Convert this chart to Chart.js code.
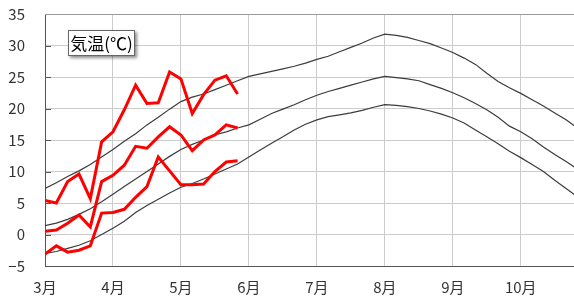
<!DOCTYPE html>
<html>
<head>
<meta charset="utf-8">
<script src="https://cdn.jsdelivr.net/npm/chart.js@4/dist/chart.umd.min.js"></script>
<style>
  html, body { margin: 0; padding: 0; background: #fff; }
  #wrap { position: relative; width: 574px; height: 302px; }
  #title {
    position: absolute; left: 68px; top: 30px; width: 65px; height: 24px;
    background: #fff; border: 1px solid #666;
    box-shadow: 2px 2px 3px rgba(0,0,0,0.45);
    font-family: "Noto Sans CJK JP", sans-serif; font-size: 17px; line-height: 24px;
    color: #000; text-align: center; white-space: nowrap;
  }
</style>
</head>
<body>
<div id="wrap">
  <canvas id="chart" width="574" height="302"></canvas>
  <div id="title">気温(℃)</div>
</div>
<script>
// month labels, one every 6 pentads (半旬)
var monthLabels = ['3月', '4月', '5月', '6月', '7月', '8月', '9月', '10月'];
var yTicks = [-5, 0, 5, 10, 15, 20, 25, 30, 35];

// observed, pentad values from 3/1
var obsMax  = [5.4, 5.0, 8.4, 9.6, 5.7, 14.7, 16.3, 19.8, 23.7, 20.8, 20.9, 25.8, 24.7, 19.2, 22.2, 24.5, 25.2, 22.3];
var obsMean = [0.5, 0.7, 1.8, 3.1, 1.2, 8.4, 9.4, 11.0, 14.0, 13.7, 15.5, 17.1, 15.8, 13.3, 15.0, 15.8, 17.4, 16.9];
var obsMin  = [-3.1, -1.8, -2.8, -2.5, -1.8, 3.4, 3.5, 4.0, 5.9, 7.6, 12.3, 10.1, 7.9, 7.9, 8.0, 10.0, 11.5, 11.7];

// normals, pentad values from 3/1
var normMax  = [7.3, 8.2, 9.2, 10.1, 11.1, 12.3, 13.5, 14.8, 16.0, 17.4, 18.6, 19.9, 21.1, 21.8, 22.3, 23.0,
                23.7, 24.4, 25.1, 25.5, 25.9, 26.3, 26.7, 27.2, 27.8, 28.3, 29.0, 29.7, 30.4, 31.2, 31.8, 31.6,
                31.3, 30.8, 30.3, 29.6, 28.9, 28.0, 27.0, 25.6, 24.3, 23.3, 22.4, 21.4, 20.4, 19.3, 18.2, 16.9];
var normMean = [1.4, 1.8, 2.4, 3.2, 4.1, 5.2, 6.4, 7.6, 8.8, 10.0, 11.2, 12.4, 13.5, 14.3, 15.0, 15.8,
                16.3, 16.9, 17.4, 18.3, 19.2, 19.9, 20.6, 21.4, 22.1, 22.7, 23.2, 23.7, 24.2, 24.7, 25.1, 24.9,
                24.7, 24.4, 23.8, 23.2, 22.5, 21.7, 20.8, 19.8, 18.6, 17.2, 16.3, 15.2, 13.9, 12.7, 11.6, 10.4];
var normMin  = [-3.0, -2.7, -2.2, -1.7, -1.0, 0.0, 1.0, 2.1, 3.5, 4.6, 5.6, 6.6, 7.5, 8.1, 8.8, 9.6,
                10.4, 11.2, 12.3, 13.4, 14.5, 15.5, 16.6, 17.5, 18.2, 18.7, 19.0, 19.3, 19.7, 20.2, 20.6, 20.5,
                20.3, 20.0, 19.6, 19.1, 18.5, 17.7, 16.6, 15.5, 14.4, 13.2, 12.2, 11.1, 10.0, 8.6, 7.3, 6.0];

var FONT = '"Noto Sans CJK JP", sans-serif';

function pts(arr) {
    return arr.map(function (v, i) { return { x: i, y: v }; });
}

function grayLine(arr) {
    return { data: pts(arr), borderColor: '#3c3c3c', borderWidth: 1.2, pointRadius: 0, order: 1 };
}
function redLine(arr) {
    return { data: pts(arr), borderColor: '#ff0000', borderWidth: 3, pointRadius: 0, order: 0 };
}

// short inward tick marks on the left axis, and the top frame line
var frame = {
    id: 'frame',
    afterDraw: function (chart) {
        var ctx = chart.ctx, a = chart.chartArea, y = chart.scales.y;
        ctx.save();
        ctx.strokeStyle = '#555';
        ctx.lineWidth = 1;
        ctx.beginPath();
        yTicks.forEach(function (v) {
            var py = Math.round(y.getPixelForValue(v)) + 0.5;
            ctx.moveTo(a.left, py);
            ctx.lineTo(a.left + 6, py);
        });
        ctx.stroke();
        ctx.strokeStyle = '#999';
        ctx.beginPath();
        ctx.moveTo(a.left, Math.round(a.top) + 0.5);
        ctx.lineTo(a.right, Math.round(a.top) + 0.5);
        ctx.stroke();
        ctx.restore();
    }
};

var ctx = document.getElementById('chart').getContext('2d');
var chart = new Chart(ctx, {
    type: 'line',
    data: {
        datasets: [
            redLine(obsMax), redLine(obsMean), redLine(obsMin),
            grayLine(normMax), grayLine(normMean), grayLine(normMin)
        ]
    },
    options: {
        responsive: false,
        animation: false,
        layout: { padding: { top: 14, right: 0, left: 0, bottom: 0 } },
        plugins: { legend: { display: false }, tooltip: { enabled: false } },
        scales: {
            x: {
                type: 'linear', min: 0, max: 46.7,
                afterBuildTicks: function (s) {
                    s.ticks = monthLabels.map(function (m, i) { return { value: i * 6 }; });
                },
                afterFit: function (s) { s.height = 36; s.paddingLeft = 0; s.paddingRight = 0; },
                ticks: {
                    autoSkip: false, maxRotation: 0, padding: 12, color: '#333',
                    font: { family: FONT, size: 15 },
                    callback: function (v) { return monthLabels[Math.round(v / 6)]; }
                },
                grid: { color: '#cccccc', lineWidth: 1, drawTicks: false },
                border: { color: '#555', width: 1 }
            },
            y: {
                min: -5, max: 35,
                afterBuildTicks: function (s) {
                    s.ticks = yTicks.map(function (v) { return { value: v }; });
                },
                afterFit: function (s) { s.width = 45; s.paddingTop = 0; s.paddingBottom = 0; },
                ticks: {
                    padding: 20, color: '#333',
                    font: { family: FONT, size: 15 },
                    callback: function (v) { return String(v).replace('-', '−'); }
                },
                grid: { color: '#cccccc', lineWidth: 1, drawTicks: false },
                border: { color: '#555', width: 1 }
            }
        }
    },
    plugins: [frame]
});
</script>
</body>
</html>
